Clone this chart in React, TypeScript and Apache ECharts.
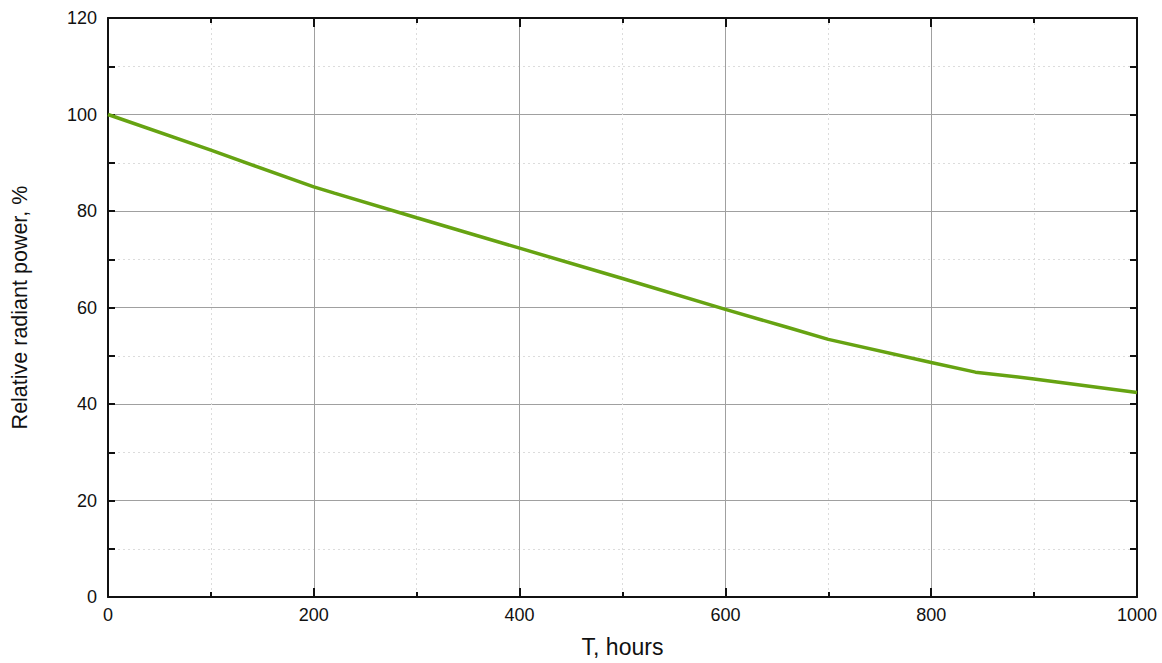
import React, { useEffect, useRef } from "react";
import * as echarts from "echarts";

const hours = [0, 100, 200, 220, 300, 400, 500, 600, 660, 700, 800, 843, 900, 1000];
const power = [100, 92.6, 85.0, 83.7, 78.6, 72.3, 66.0, 59.6, 55.9, 53.4, 48.6, 46.6, 45.2, 42.4];
const xTitle = "T, hours";
const yTitle = "Relative radiant power, %";

export default function App() {
  const ref = useRef<HTMLDivElement>(null);
  useEffect(() => {
    if (!ref.current) return;
    const chart = echarts.init(ref.current, undefined, { renderer: "svg" });
    const font = "'Liberation Sans', Arial, sans-serif";
    const axisLine = { show: true, onZero: false, lineStyle: { color: "#111", width: 2 } };
    const data = hours.map((h, i) => [h, power[i]]);
    chart.setOption({
      animation: false,
      backgroundColor: "#fff",
      grid: { left: 108, right: 25, top: 18, bottom: 63, containLabel: false },
      xAxis: [
        {
          type: "value",
          min: 0,
          max: 1000,
          interval: 200,
          name: xTitle,
          nameLocation: "middle",
          nameGap: 38,
          nameTextStyle: { fontFamily: font, fontSize: 23, color: "#111" },
          axisLine,
          axisTick: { show: true, inside: true, length: 9, lineStyle: { color: "#111", width: 2 } },
          minorTick: { show: true, splitNumber: 2, length: 5, lineStyle: { color: "#111", width: 2 } },
          axisLabel: {
            fontFamily: font,
            fontSize: 18,
            color: "#111",
            margin: 9,
            formatter: (v: number) => String(v),
          },
          splitLine: { show: true, lineStyle: { color: "#a0a0a0", width: 1 } },
          minorSplitLine: { show: true, lineStyle: { color: "#dcdcdc", width: 1, type: [2, 3] } },
        },
        {
          type: "value",
          position: "top",
          min: 0,
          max: 1000,
          interval: 200,
          axisLine,
          axisTick: { show: true, inside: true, length: 9, lineStyle: { color: "#111", width: 2 } },
          minorTick: { show: true, splitNumber: 2, length: 5, lineStyle: { color: "#111", width: 2 } },
          axisLabel: { show: false },
          splitLine: { show: false },
        },
      ],
      yAxis: [
        {
          type: "value",
          min: 0,
          max: 120,
          interval: 20,
          name: yTitle,
          nameLocation: "middle",
          nameGap: 77,
          nameTextStyle: { fontFamily: font, fontSize: 21.5, color: "#111" },
          axisLine,
          axisTick: { show: true, inside: true, length: 7, lineStyle: { color: "#111", width: 2 } },
          minorTick: { show: true, splitNumber: 2, length: 7, lineStyle: { color: "#111", width: 2 } },
          axisLabel: { fontFamily: font, fontSize: 18, color: "#111", margin: 11 },
          splitLine: { show: true, lineStyle: { color: "#a0a0a0", width: 1 } },
          minorSplitLine: { show: true, lineStyle: { color: "#dcdcdc", width: 1, type: [2, 3] } },
        },
        {
          type: "value",
          position: "right",
          min: 0,
          max: 120,
          interval: 20,
          axisLine,
          axisTick: { show: true, inside: true, length: 7, lineStyle: { color: "#111", width: 2 } },
          minorTick: { show: true, splitNumber: 2, length: 7, lineStyle: { color: "#111", width: 2 } },
          axisLabel: { show: false },
          splitLine: { show: false },
        },
      ],
      series: [
        {
          type: "line",
          xAxisIndex: 0,
          yAxisIndex: 0,
          data,
          showSymbol: false,
          smooth: false,
          lineStyle: { color: "#66a312", width: 3.5 },
        },
      ],
    });
    return () => chart.dispose();
  }, []);
  return (
    <div
      ref={ref}
      style={{ position: "fixed", left: 0, top: 0, width: 1162, height: 663, background: "#fff" }}
    />
  );
}
